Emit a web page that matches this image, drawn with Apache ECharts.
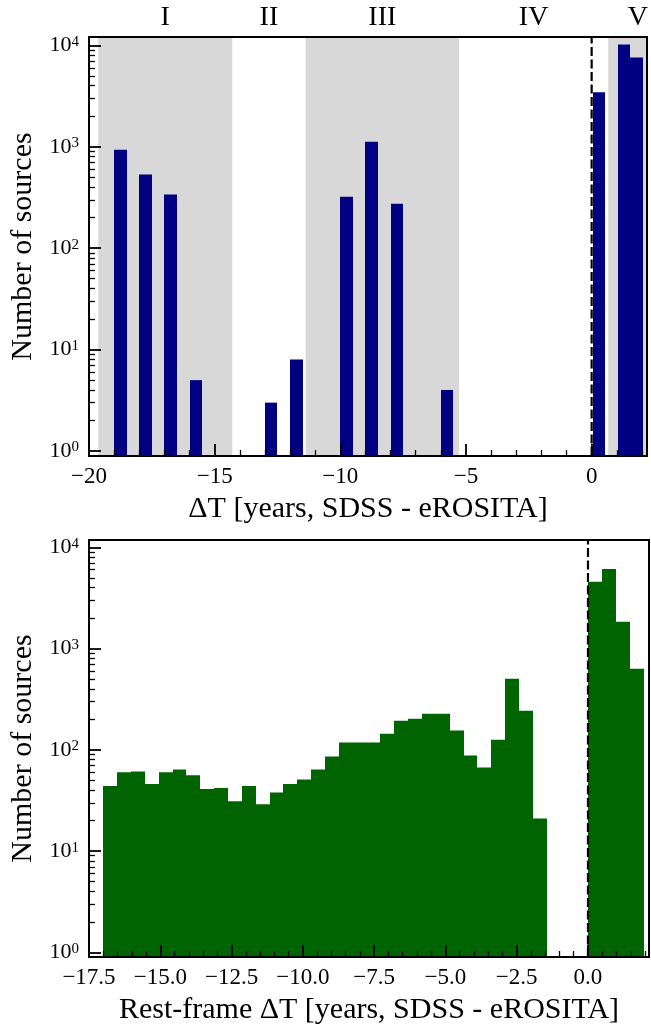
<!DOCTYPE html>
<html>
<head>
<meta charset="utf-8">
<script src="https://cdn.jsdelivr.net/npm/echarts@6/dist/echarts.min.js"></script>
<style>
  html, body { margin: 0; padding: 0; background: #fff; }
  #chart { width: 651px; height: 1027px; }
</style>
</head>
<body>
<div id="chart"></div>
<script>
// ---- Observed-frame time lag between SDSS and eROSITA (years) ----
const obsBinLefts = [-19, -18, -17, -16, -13, -12, -10, -9, -8, -6, 0.04, 1.04, 1.54];
const obsBinWidth = 0.5;
const obsCounts = [936, 534, 339, 5, 3, 8, 322, 1123, 274, 4, 3443, 10180, 7580];
const obsXRange = [-20, 2.2];
const obsYRange = [0.893, 12100];
const obsTickValues = [-20, -15, -10, -5, 0];

// Epoch boundaries (years) and the names written above the panel
const epochEdges = [-19.63, -14.3, -11.38, -5.28, 0.66, 3.02];
const epochNames = ['I', 'II', 'III', 'IV', 'V'];
const shadedEpochs = [0, 2, 4];

// ---- Rest-frame time lag: uniform bins starting at restBinStart ----
const restBinStart = -17.0;
const restBinWidth = 0.486;
const restCounts = [44, 60, 61, 46, 60, 64, 56, 41, 42, 31, 44, 29, 38, 46, 51, 64,
                    86, 118, 118, 118, 144, 194, 203, 227, 227, 155, 88, 67, 126, 504,
                    243, 21, 0, 0, 0, 4565, 6095, 1840, 632];
const restXRange = [-17.5, 2.14];
const restYRange = [0.90, 11800];
const restTickValues = [-17.5, -15, -12.5, -10, -7.5, -5, -2.5, 0];

const countTickValues = [1, 10, 100, 1000, 10000];

const FONT = 'Liberation Serif';
const BLACK = '#000';
const TITLE_SIZE = 30;

// minor tick positions between the labelled ticks
function minorSteps(range, step, majorStep) {
  const out = [];
  const start = Math.ceil(range[0] / step) * step;
  for (let v = start; v <= range[1] + 1e-9; v += step) {
    const r = Math.round(v / step) * step;
    if (Math.abs(r / majorStep - Math.round(r / majorStep)) > 1e-6) out.push(r);
  }
  return out;
}
function logMinors(range) {
  const out = [];
  for (let d = 1; d <= 10000; d *= 10) {
    for (let m = 2; m <= 9; m++) {
      const v = m * d;
      if (v > range[0] && v < range[1]) out.push(v);
    }
  }
  return out;
}
const minus = (s) => s.replace('-', '\u2212');

function xAxesFor(g, range, majors, minors, fmt, name, topLabels) {
  const base = { gridIndex: g, type: 'value', min: range[0], max: range[1], z: 10,
                 splitLine: { show: false }, minorTick: { show: false } };
  const main = Object.assign({}, base, {
    position: 'bottom',
    axisLine: { show: true, onZero: false, lineStyle: { color: BLACK, width: 2 } },
    axisTick: { show: true, inside: true, length: 12, customValues: majors,
                lineStyle: { color: BLACK, width: 1.8 } },
    axisLabel: { show: true, customValues: majors, formatter: fmt, margin: 9,
                 color: BLACK, fontFamily: FONT, fontSize: 23 },
    name: name, nameLocation: 'middle', nameGap: 38,
    nameTextStyle: { fontFamily: FONT, fontSize: TITLE_SIZE, color: BLACK }
  });
  const minor = Object.assign({}, base, {
    position: 'bottom',
    axisLine: { show: false, onZero: false },
    axisTick: { show: true, inside: true, length: 6, customValues: minors,
                lineStyle: { color: BLACK, width: 1.3 } },
    axisLabel: { show: false }
  });
  const top = Object.assign({}, base, {
    position: 'top',
    axisLine: { show: true, onZero: false, lineStyle: { color: BLACK, width: 2 } },
    axisTick: { show: false },
    axisLabel: topLabels ? Object.assign({ show: true, margin: 5, color: BLACK,
                 fontFamily: FONT, fontSize: 28 }, topLabels) : { show: false }
  });
  return [main, minor, top];
}

function yAxesFor(g, range) {
  const base = { gridIndex: g, type: 'log', logBase: 10, min: range[0], max: range[1], z: 10,
                 splitLine: { show: false }, minorTick: { show: false } };
  const main = Object.assign({}, base, {
    position: 'left',
    axisLine: { show: true, onZero: false, lineStyle: { color: BLACK, width: 2 } },
    axisTick: { show: true, inside: true, length: 12, customValues: countTickValues,
                lineStyle: { color: BLACK, width: 1.8 } },
    axisLabel: {
      show: true, customValues: countTickValues, margin: 10,
      formatter: (v) => '{b|10}{s|' + Math.round(Math.log10(v)) + '}',
      rich: {
        b: { fontFamily: FONT, fontSize: 22, color: BLACK },
        s: { fontFamily: FONT, fontSize: 15, color: BLACK, verticalAlign: 'top' }
      }
    },
    name: 'Number of sources', nameLocation: 'middle', nameGap: 50, nameRotate: 90,
    nameTextStyle: { fontFamily: FONT, fontSize: TITLE_SIZE, color: BLACK }
  });
  const minor = Object.assign({}, base, {
    position: 'left',
    axisLine: { show: false, onZero: false },
    axisTick: { show: true, inside: true, length: 6, customValues: logMinors(range),
                lineStyle: { color: BLACK, width: 1.3 } },
    axisLabel: { show: false }
  });
  const right = Object.assign({}, base, {
    position: 'right',
    axisLine: { show: true, onZero: false, lineStyle: { color: BLACK, width: 2 } },
    axisTick: { show: false }, axisLabel: { show: false }
  });
  return [main, minor, right];
}

// histogram bar: [left, right, count] drawn down to the bottom of the axis;
// edges snapped to whole pixels so neighbouring bars join without seams
function histRenderer(color, yMin) {
  return function (params, api) {
    const v = api.value(2);
    if (!(v > 0)) return null;
    const p0 = api.coord([api.value(0), v]);
    const p1 = api.coord([api.value(1), yMin]);
    const x0 = Math.round(p0[0]), x1 = Math.round(p1[0]);
    return { type: 'rect',
             shape: { x: x0, y: p0[1], width: x1 - x0, height: p1[1] - p0[1] },
             style: { fill: color } };
  };
}
function bandRenderer(yRange) {
  return function (params, api) {
    const p0 = api.coord([api.value(0), yRange[1]]);
    const p1 = api.coord([api.value(1), yRange[0]]);
    return { type: 'rect',
             shape: { x: p0[0], y: p0[1], width: p1[0] - p0[0], height: p1[1] - p0[1] },
             style: { fill: '#d8d8d8' } };
  };
}

const epochCenters = epochNames.map((_, i) => (epochEdges[i] + epochEdges[i + 1]) / 2);
const epochLabel = (v) => {
  let best = 0;
  epochCenters.forEach((c, i) => { if (Math.abs(c - v) < Math.abs(epochCenters[best] - v)) best = i; });
  return epochNames[best];
};

const obsBars = obsBinLefts.map((x, i) => [x, x + obsBinWidth, obsCounts[i]]);
const restBars = restCounts.map((c, i) => [restBinStart + i * restBinWidth,
                                           restBinStart + (i + 1) * restBinWidth, c]);
const bands = shadedEpochs.map((i) => [epochEdges[i], epochEdges[i + 1], obsYRange[0], obsYRange[1]]);

const xAxes = []
  .concat(xAxesFor(0, obsXRange, obsTickValues, minorSteps(obsXRange, 1, 5),
                   (v) => minus(String(v)), '\u0394T [years, SDSS - eROSITA]',
                   { customValues: epochCenters, formatter: epochLabel }))
  .concat(xAxesFor(1, restXRange, restTickValues, minorSteps(restXRange, 0.5, 2.5),
                   (v) => minus(v.toFixed(1)), 'Rest-frame \u0394T [years, SDSS - eROSITA]', null));
const yAxes = [].concat(yAxesFor(0, obsYRange)).concat(yAxesFor(1, restYRange));

const chart = echarts.init(document.getElementById('chart'), null, { renderer: 'canvas' });
chart.setOption({
  animation: false,
  backgroundColor: '#fff',
  textStyle: { fontFamily: FONT },
  grid: [
    { left: 89, top: 37, width: 560, height: 419 },
    { left: 89, top: 540, width: 560, height: 417 }
  ],
  xAxis: xAxes,
  yAxis: yAxes,
  series: [
    { type: 'custom', name: 'epochs', xAxisIndex: 0, yAxisIndex: 0, clip: true, z: 1, silent: true,
      encode: { x: [0, 1], y: [2, 3] }, data: bands, renderItem: bandRenderer(obsYRange) },
    { type: 'custom', name: 'observed', xAxisIndex: 0, yAxisIndex: 0, clip: true, z: 2, silent: true,
      encode: { x: [0, 1], y: 2 }, data: obsBars, renderItem: histRenderer('#000080', obsYRange[0]) },
    { type: 'line', xAxisIndex: 0, yAxisIndex: 0, z: 3, silent: true, symbol: 'none',
      data: [[0, obsYRange[0]], [0, obsYRange[1]]],
      lineStyle: { color: BLACK, width: 2.2, type: [9, 3.5] } },
    { type: 'custom', name: 'rest', xAxisIndex: 3, yAxisIndex: 3, clip: true, z: 2, silent: true,
      encode: { x: [0, 1], y: 2 }, data: restBars, renderItem: histRenderer('#006400', restYRange[0]) },
    { type: 'line', xAxisIndex: 3, yAxisIndex: 3, z: 3, silent: true, symbol: 'none',
      data: [[0, restYRange[0]], [0, restYRange[1]]],
      lineStyle: { color: BLACK, width: 2.2, type: [9, 3.5] } }
  ]
});
</script>
</body>
</html>
